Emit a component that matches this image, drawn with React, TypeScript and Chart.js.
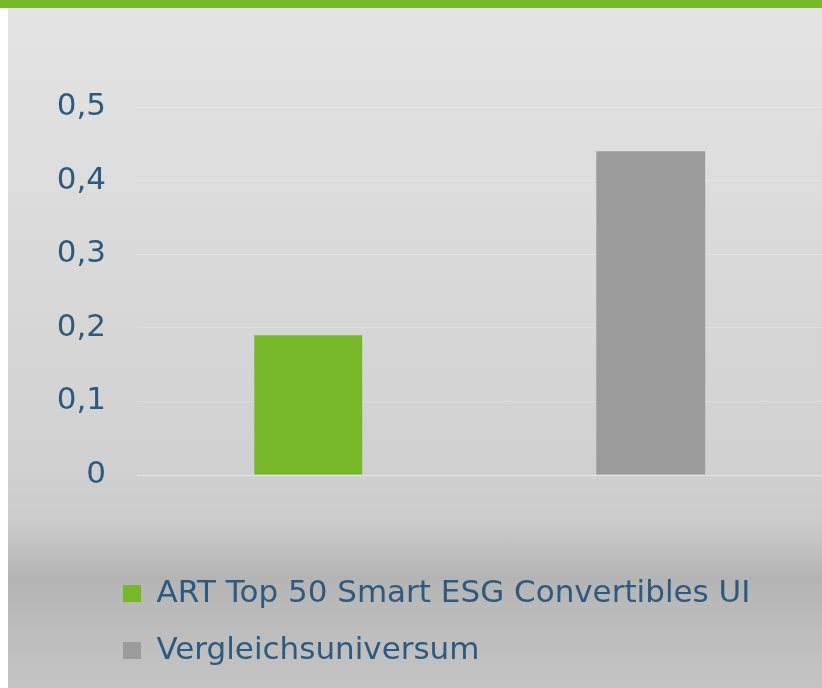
import React, { useEffect, useRef } from "react";
import { Chart, registerables } from "chart.js";

Chart.register(...registerables);

const categories: string[] = [""];
const seriesNames: string[] = ["ART Top 50 Smart ESG Convertibles UI", "Vergleichsuniversum"];
const artValues: number[] = [0.19];
const vergleichValues: number[] = [0.44];
const seriesColors: string[] = ["#77b82a", "#9b9b9b"];
const yTickLabels: string[] = ["0", "0,1", "0,2", "0,3", "0,4", "0,5"];

const TEXT_COLOR = "#2d5a7e";
const FONT_FAMILY = "'DejaVu Sans', sans-serif";
const LEGEND_INDENT = 89;

const legendIndentPlugin = {
  id: "legendIndent",
  afterLayout(chart: any) {
    if (chart.legend) {
      chart.legend.left += LEGEND_INDENT;
    }
  },
};

export default function App() {
  const canvasRef = useRef<HTMLCanvasElement | null>(null);

  useEffect(() => {
    if (!canvasRef.current) return;
    const chart = new Chart(canvasRef.current, {
      type: "bar",
      data: {
        labels: categories,
        datasets: [
          {
            label: seriesNames[0],
            data: artValues,
            backgroundColor: seriesColors[0],
            borderWidth: 0,
            categoryPercentage: 1,
            barPercentage: 0.315,
          },
          {
            label: seriesNames[1],
            data: vergleichValues,
            backgroundColor: seriesColors[1],
            borderWidth: 0,
            categoryPercentage: 1,
            barPercentage: 0.318,
          },
        ],
      },
      plugins: [legendIndentPlugin],
      options: {
        responsive: false,
        animation: false,
        devicePixelRatio: 1,
        layout: { padding: { left: 0, top: 99, right: 0, bottom: 12 } },
        plugins: {
          tooltip: { enabled: false },
          legend: {
            position: "bottom",
            align: "start",
            labels: {
              color: TEXT_COLOR,
              font: { family: FONT_FAMILY, size: 31 },
              boxWidth: 18,
              boxHeight: 17,
              padding: 26,
            },
          },
        },
        scales: {
          x: {
            display: true,
            grid: { display: false },
            border: { display: false },
            ticks: { display: false },
            afterFit: (s: any) => {
              s.height = 77;
            },
          },
          y: {
            min: 0,
            max: 0.5,
            border: { display: false },
            grid: {
              color: (ctx: any) => (ctx.index === 0 ? "rgba(255,255,255,0.45)" : "rgba(255,255,255,0.2)"),
              lineWidth: 1,
              drawTicks: false,
            },
            ticks: {
              stepSize: 0.1,
              padding: 31,
              color: TEXT_COLOR,
              font: { family: FONT_FAMILY, size: 31 },
              callback: (_v: any, i: number) => yTickLabels[i],
            },
            afterFit: (s: any) => {
              s.width = 129;
            },
          },
        },
      },
    });
    return () => chart.destroy();
  }, []);

  return (
    <div
      style={{
        position: "fixed",
        left: 0,
        top: 0,
        width: 822,
        height: 688,
        background: "#ffffff",
        overflow: "hidden",
      }}
    >
      <div
        style={{
          position: "absolute",
          left: 8,
          top: 8,
          width: 814,
          height: 680,
          background:
            "linear-gradient(to bottom, #e4e4e4 0px, #e0e0e0 100px, #d6d6d6 330px, #d0d0d0 470px, #cbcbcb 515px, #b4b4b4 570px, #b9b9b9 595px, #c4c4c4 680px)",
        }}
      >
        <canvas ref={canvasRef} width={814} height={680} style={{ display: "block" }} />
      </div>
      <div
        style={{
          position: "absolute",
          left: 0,
          top: 0,
          width: 822,
          height: 8,
          background: "#77b82a",
        }}
      />
    </div>
  );
}
